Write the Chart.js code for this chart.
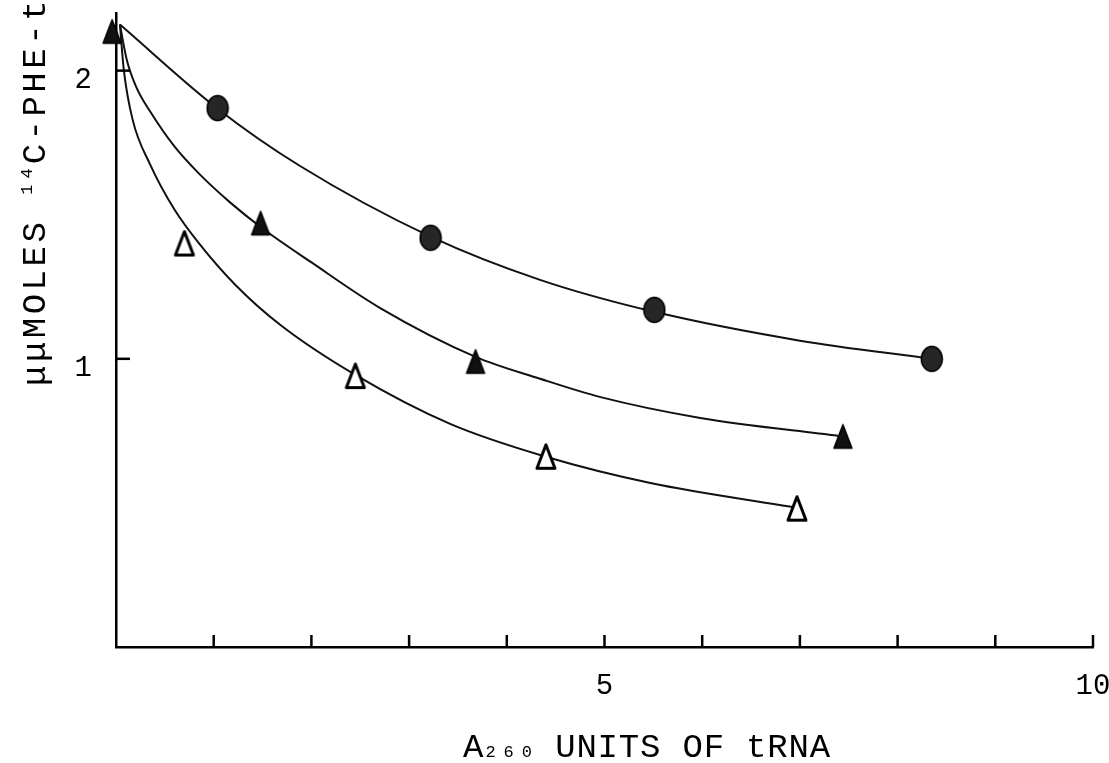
<!DOCTYPE html>
<html>
<head>
<meta charset="utf-8">
<title>tRNA</title>
<script src="https://cdn.jsdelivr.net/npm/chart.js@4/dist/chart.umd.min.js"></script>
<style>
  html, body { margin: 0; padding: 0; background: #fff; }
  #c { display: block; }
</style>
</head>
<body>
<canvas id="c" width="1109" height="763"></canvas>
<script>
// valores (x = unidades A260, y = µµmoles)
const circleX = [1.04, 3.22, 5.51, 8.35];
const circleY = [1.87, 1.42, 1.17, 1.0];

const solidTriX = [-0.04, 1.48, 3.68, 7.44];
const solidTriY = [2.135, 1.47, 0.99, 0.73];

const openTriX = [0.70, 2.45, 4.40, 6.97];
const openTriY = [1.40, 0.94, 0.66, 0.48];

// curvas desenhadas a mao (pontos lidos ao longo de cada curva)
const circleFitX = [0.04, 1.04, 1.88, 3.22, 4.34, 5.51, 7.00, 8.35];
const circleFitY = [2.16, 1.868, 1.670, 1.424, 1.274, 1.163, 1.063, 1.0];

const solidFitX = [0.04, 0.11, 0.21, 0.35, 0.60, 0.86, 1.17, 1.49, 1.99, 2.70, 3.68, 4.34, 4.95, 5.98, 7.39];
const solidFitY = [2.16, 2.038, 1.941, 1.858, 1.736, 1.639, 1.542, 1.455, 1.337, 1.177, 1.007, 0.931, 0.868, 0.795, 0.733];

const openFitX = [0.04, 0.08, 0.17, 0.35, 0.60, 0.86, 1.22, 1.68, 2.45, 3.42, 4.40, 5.47, 6.97];
const openFitY = [2.16, 2.003, 1.830, 1.674, 1.517, 1.396, 1.257, 1.118, 0.944, 0.774, 0.660, 0.569, 0.483];

// ticks
const xTickMarks = [1, 2, 3, 4, 5, 6, 7, 8, 9, 10];
const xLabelValues = [5, 10];
const yTickMarks = [1, 2];
const yLabelValues = [1, 2];

const FONT = "'Liberation Mono', 'DejaVu Sans Mono', monospace";

function pts(xs, ys) {
  return xs.map((x, i) => ({ x: x, y: ys[i] }));
}

// marcadores
function makeMarker(kind) {
  const cv = document.createElement("canvas");
  const w = 24;
  const h = 28;
  cv.width = w;
  cv.height = h;
  const g = cv.getContext("2d");
  if (kind === "circle") {
    g.beginPath();
    g.ellipse(w / 2, h / 2, 10.5, 12.5, 0, 0, Math.PI * 2);
    g.fillStyle = "#262626";
    g.fill();
    g.lineWidth = 1.5;
    g.strokeStyle = "#000";
    g.stroke();
  } else {
    g.beginPath();
    g.moveTo(w / 2, 2);
    g.lineTo(w - 3, h - 2.5);
    g.lineTo(3, h - 2.5);
    g.closePath();
    g.lineJoin = "round";
    if (kind === "solid") {
      g.fillStyle = "#111";
      g.fill();
      g.lineWidth = 1.5;
      g.strokeStyle = "#000";
      g.stroke();
    } else {
      g.fillStyle = "#fff";
      g.fill();
      g.lineWidth = 3;
      g.strokeStyle = "#000";
      g.stroke();
    }
  }
  return cv;
}

const circleImg = makeMarker("circle");
const solidImg = makeMarker("solid");
const openImg = makeMarker("open");

// ticks para dentro + titulos
const tickPlugin = {
  id: "tickPlugin",
  afterDraw(chart) {
    const ctx = chart.ctx;
    const xs = chart.scales.x;
    const ys = chart.scales.y;
    const area = chart.chartArea;
    ctx.save();
    ctx.strokeStyle = "#000";
    ctx.lineWidth = 2.5;
    xTickMarks.forEach((v) => {
      const px = xs.getPixelForValue(v);
      ctx.beginPath();
      ctx.moveTo(px, area.bottom);
      ctx.lineTo(px, area.bottom - 12);
      ctx.stroke();
    });
    yTickMarks.forEach((v) => {
      const py = ys.getPixelForValue(v);
      ctx.beginPath();
      ctx.moveTo(area.left, py);
      ctx.lineTo(area.left + 14, py);
      ctx.stroke();
    });

    // titulo do eixo x: A260 UNITS OF tRNA
    ctx.fillStyle = "#000";
    ctx.textBaseline = "alphabetic";
    ctx.textAlign = "left";
    let x = 463;
    const base = 757;
    ctx.font = "34px " + FONT;
    ctx.fillText("A", x, base);
    x += ctx.measureText("A").width + 2;
    ctx.font = "17px " + FONT;
    ctx.letterSpacing = "8px";
    ctx.fillText("260", x, base);
    x += ctx.measureText("260").width - 6;
    ctx.font = "34px " + FONT;
    ctx.letterSpacing = "0.8px";
    ctx.fillText(" UNITS OF tRNA", x, base);

    // titulo do eixo y (rodado)
    ctx.translate(45, 386);
    ctx.rotate(-Math.PI / 2);
    let y = 0;
    ctx.font = "34px " + FONT;
    ctx.letterSpacing = "3.5px";
    ctx.fillText("\u03bc\u03bcMOLES ", y, 0);
    y += ctx.measureText("\u03bc\u03bcMOLES ").width;
    ctx.font = "17px " + FONT;
    ctx.letterSpacing = "6px";
    ctx.fillText("14", y, -13);
    y += ctx.measureText("14").width - 2;
    ctx.font = "34px " + FONT;
    ctx.letterSpacing = "3.5px";
    ctx.fillText("C-PHE-tRNA", y, 0);
    ctx.restore();
  },
};

const lineStyle = {
  showLine: true,
  pointRadius: 0,
  borderColor: "#111",
  borderWidth: 2,
  cubicInterpolationMode: "monotone",
  fill: false,
  order: 2,
};

new Chart(document.getElementById("c"), {
  type: "scatter",
  data: {
    datasets: [
      Object.assign({ label: "circle fit", data: pts(circleFitX, circleFitY) }, lineStyle),
      Object.assign({ label: "solid fit", data: pts(solidFitX, solidFitY) }, lineStyle),
      Object.assign({ label: "open fit", data: pts(openFitX, openFitY) }, lineStyle),
      {
        label: "circles",
        data: pts(circleX, circleY),
        pointStyle: circleImg,
        pointRadius: 12,
        order: 0,
      },
      {
        label: "solid triangles",
        data: pts(solidTriX, solidTriY),
        pointStyle: solidImg,
        pointRadius: 12,
        order: 0,
      },
      {
        label: "open triangles",
        data: pts(openTriX, openTriY),
        pointStyle: openImg,
        pointRadius: 12,
        order: 0,
      },
    ],
  },
  options: {
    responsive: false,
    animation: false,
    clip: false,
    layout: { padding: { top: 13, right: 16, left: 0, bottom: 0 } },
    plugins: {
      legend: { display: false },
      tooltip: { enabled: false },
    },
    scales: {
      x: {
        type: "linear",
        min: 0,
        max: 10,
        afterFit(s) {
          s.height = 116;
          s.paddingLeft = 0;
          s.paddingRight = 0;
        },
        afterBuildTicks(s) {
          s.ticks = xLabelValues.map((v) => ({ value: v }));
        },
        grid: { display: false, drawTicks: false },
        border: { display: true, color: "#000", width: 2.5 },
        ticks: {
          color: "#000",
          padding: 22,
          maxRotation: 0,
          font: { family: FONT, size: 29 },
        },
      },
      y: {
        type: "linear",
        min: 0,
        max: 2.2,
        afterFit(s) {
          s.width = 116;
          s.paddingTop = 0;
          s.paddingBottom = 0;
        },
        afterBuildTicks(s) {
          s.ticks = yLabelValues.map((v) => ({ value: v }));
        },
        grid: { display: false, drawTicks: false },
        border: { display: true, color: "#000", width: 2.5 },
        ticks: {
          color: "#000",
          padding: 24,
          labelOffset: 10,
          font: { family: FONT, size: 29 },
        },
      },
    },
  },
  plugins: [tickPlugin],
});
</script>
</body>
</html>
